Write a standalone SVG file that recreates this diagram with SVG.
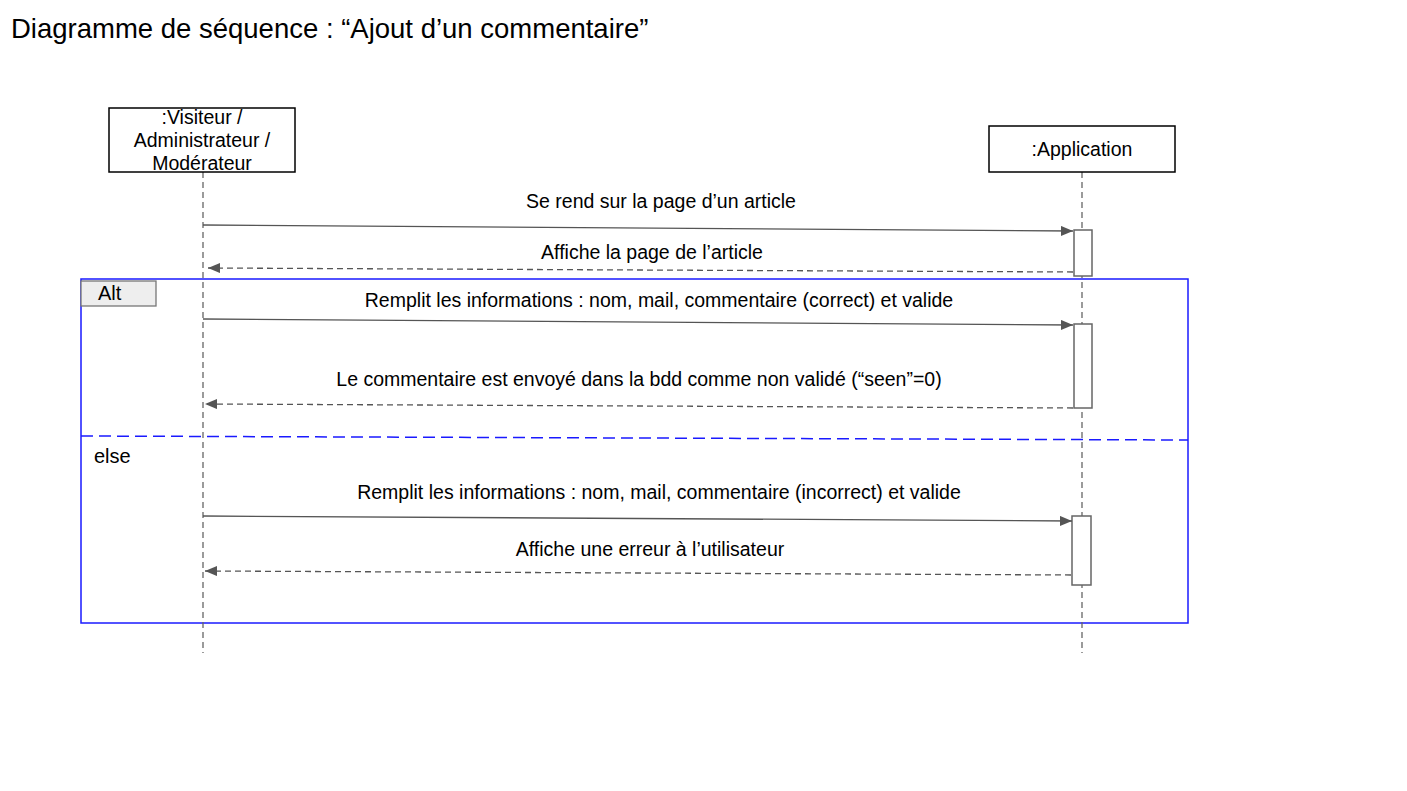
<svg xmlns="http://www.w3.org/2000/svg" width="1407" height="791" viewBox="0 0 1407 791">
<style>
text{font-family:"Liberation Sans",Arial,sans-serif;fill:#000}
.lbl{font-size:19.5px;text-anchor:middle}
.box{fill:#fff;stroke:#000;stroke-width:1.5}
.life{stroke:#666;stroke-width:1.3;stroke-dasharray:6 4;fill:none}
.act{fill:#fff;stroke:#666;stroke-width:1.5}
.msg{stroke:#555;stroke-width:1.3;fill:none}
.ret{stroke:#555;stroke-width:1.3;fill:none;stroke-dasharray:6 4}
</style>
<defs>
<marker id="ah" viewBox="0 0 12 10" refX="12" refY="5" markerWidth="12" markerHeight="10" markerUnits="userSpaceOnUse" orient="auto">
<path d="M0,0 L12,5 L0,10 Z" fill="#555"/>
</marker>
</defs>
<rect width="1407" height="791" fill="#fff"/>
<text x="11" y="38" font-size="27.5">Diagramme de séquence : “Ajout d’un commentaire”</text>

<g id="frame-alt">
<rect x="81" y="279" width="1107" height="344" fill="none" stroke="#1a1aff" stroke-width="1.5"/>
<rect x="81" y="281" width="75" height="25" fill="#eee" stroke="#777" stroke-width="1.3"/>
<text x="98" y="300" font-size="20">Alt</text>
<line x1="81" y1="436" x2="1188" y2="440" stroke="#1a1aff" stroke-width="1.5" stroke-dasharray="12 6"/>
<text x="94" y="463" font-size="20">else</text>
</g>

<g id="lifelines">
<line class="life" x1="203" y1="172" x2="203" y2="653"/>
<line class="life" x1="1082" y1="172" x2="1082" y2="653"/>
</g>

<g id="actor-visiteur">
<rect class="box" x="109" y="108" width="186" height="64"/>
<text class="lbl" x="202" y="124">:Visiteur /</text>
<text class="lbl" x="202" y="147">Administrateur /</text>
<text class="lbl" x="202" y="170">Modérateur</text>
</g>

<g id="actor-application">
<rect class="box" x="989" y="126" width="186" height="46"/>
<text class="lbl" x="1082" y="156">:Application</text>
</g>

<g id="activations">
<rect class="act" x="1074" y="230" width="18" height="46"/>
<rect class="act" x="1074" y="324" width="18" height="84"/>
<rect class="act" x="1072" y="516" width="19" height="69"/>
</g>

<g id="connectors">
<line class="msg" x1="203" y1="225" x2="1073" y2="231" marker-end="url(#ah)"/>
<line class="ret" x1="1073" y1="272" x2="208" y2="268" marker-end="url(#ah)"/>
<line class="msg" x1="203" y1="319" x2="1073" y2="325" marker-end="url(#ah)"/>
<line class="ret" x1="1073" y1="408" x2="205" y2="404" marker-end="url(#ah)"/>
<line class="msg" x1="203" y1="516" x2="1072" y2="521" marker-end="url(#ah)"/>
<line class="ret" x1="1071" y1="575" x2="205" y2="571" marker-end="url(#ah)"/>
</g>

<g id="labels">
<text class="lbl" x="661" y="208">Se rend sur la page d’un article</text>
<text class="lbl" x="652" y="259">Affiche la page de l’article</text>
<text class="lbl" x="659" y="307">Remplit les informations : nom, mail, commentaire (correct) et valide</text>
<text class="lbl" x="639" y="386">Le commentaire est envoyé dans la bdd comme non validé (“seen”=0)</text>
<text class="lbl" x="659" y="499">Remplit les informations : nom, mail, commentaire (incorrect) et valide</text>
<text class="lbl" x="650" y="556">Affiche une erreur à l’utilisateur</text>
</g>
</svg>
